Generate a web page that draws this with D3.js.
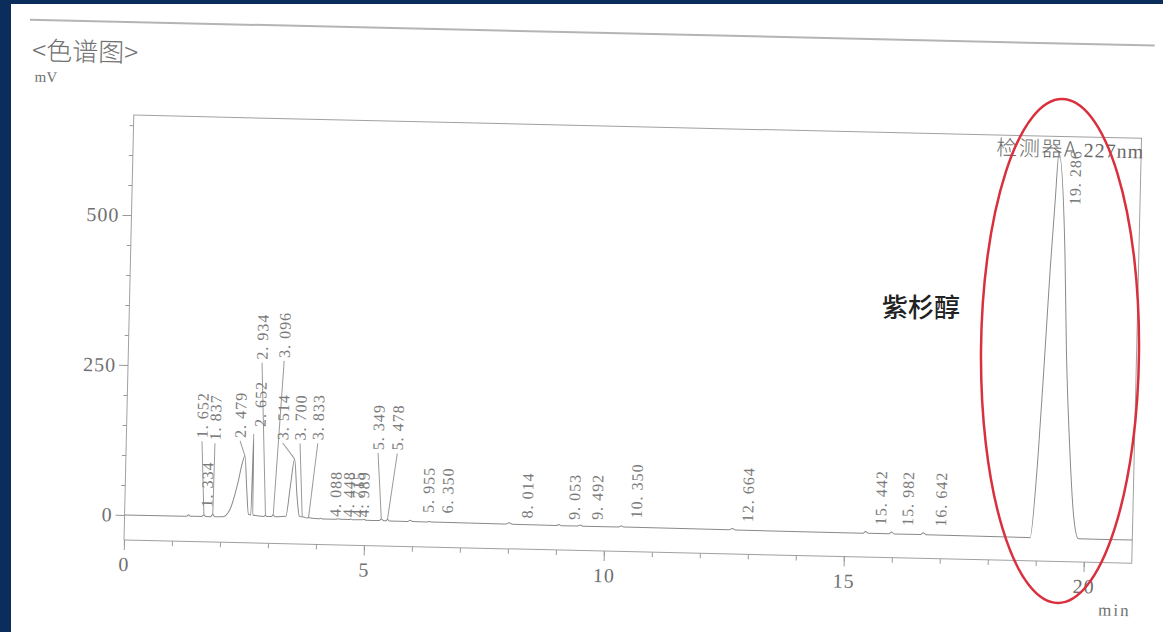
<!DOCTYPE html>
<html>
<head>
<meta charset="utf-8">
<script src="https://cdn.jsdelivr.net/npm/d3@7"></script>
<style>
  html, body { margin: 0; padding: 0; background: #0b2d5b; }
  svg { display: block; }
</style>
</head>
<body>
<svg id="chart" width="1163" height="632"></svg>
<script>
// ---- peak table (retention time in min, apex height in mV) ----
const peakRT = [1.334, 1.652, 1.837, 2.479, 2.652, 2.934, 3.096, 3.514, 3.700, 3.833,
                4.088, 4.448, 4.715, 4.989, 5.349, 5.478, 5.955, 6.350, 8.014, 9.053,
                9.492, 10.350, 12.664, 15.442, 15.982, 16.642, 19.286];
const peakMV = [3, 3, 4, 103, 140, 5, 6, 100, 4, 3,
                2, 2, 2, 2, 3, 3, 2, 1, 2, 1,
                1, 1, 1, 1, 1, 1, 639];

// ---- detector trace between the apexes (min, mV) ----
const traceT = [0, 1.25, 1.30, 1.37, 1.60, 1.70, 1.79, 1.88, 2.05, 2.20, 2.35, 2.43, 2.53, 2.58,
                2.63, 2.67, 2.90, 2.96, 3.06, 3.13, 3.36, 3.44, 3.58, 3.64, 3.67, 3.75, 3.80, 3.87,
                4.05, 4.12, 4.40, 4.50, 4.68, 4.75, 4.95, 5.03, 5.30, 5.40, 5.45, 5.52, 5.90, 6.00,
                6.30, 6.40, 7.95, 8.08, 9.00, 9.10, 9.44, 9.55, 10.30, 10.40, 12.60, 12.73,
                15.39, 15.50, 15.93, 16.04, 16.59, 16.70, 18.87, 19.00, 19.09, 19.16, 19.23,
                19.46, 19.54, 19.66, 19.76, 19.88, 21];
const traceMV = [0, 0, 0.5, 0.5, 0.5, 0.5, 0.5, 0.5, 1, 15, 60, 92, 50, 6,
                 5, 5, 3, 3, 3, 3, 4, 55, 40, 5, 4, 3, 2, 2,
                 1, 1, 1, 1, 1, 1, 1, 0.5, 0.5, 0.5, 0.5, 0, 0, 0,
                 0, 0, -0.5, -0.5, -1, -1, -1, -1, -1, -1, -1.5, -1.5,
                 -2, -2, -2, -2, -2, -2, -3, 138, 305, 444, 556,
                 473, 306, 140, 40, -3, -3];

// ---- where each retention-time tag sits (min, mV at the tag's foot) ----
const tagT  = [1.71, 1.577, 1.848, 2.37, 2.78, 2.79, 3.25, 3.26, 3.62, 3.99,
               4.385, 4.66, 4.85, 4.97, 5.25, 5.65, 6.32, 6.72, 8.385, 9.365,
               9.84, 10.66, 12.98, 15.75, 16.31, 17.0, 19.64];
const tagMV = [16, 131, 128, 133, 152, 264, 268, 131, 131, 132,
               5, 5, 5, 5, 118, 118, 15, 15, 10, 9,
               10, 14, 12, 12, 12, 12, 553];

// ---- axes ----
const xMajor = [0, 5, 10, 15, 20];
const yMajor = [0, 250, 500];
const xDomain = [0, 21];
const yDomain = [-41.7, 666.7];

const W = 1163, H = 632;
const svg = d3.select("#chart");

svg.append("rect").attr("width", W).attr("height", H).attr("fill", "#0b2d5b");
svg.append("rect").attr("x", 11).attr("y", 4).attr("width", W - 11).attr("height", H - 4).attr("fill", "#ffffff");

// plot frame in page coordinates; the printed page sits slightly skewed
const L = 124, T = 115, R = 1132, B = 540;
const skew = 1.32;
const page = svg.append("g").attr("transform", `rotate(${skew},${L},${B})`);

const x = d3.scaleLinear().domain(xDomain).range([L, R]);
const y = d3.scaleLinear().domain(yDomain).range([B, T]);

const serif = "'Liberation Serif', 'DejaVu Serif', serif";
const cjk = "'Noto Sans CJK SC', 'Noto Sans CJK JP', sans-serif";

// header rule, title and unit
page.append("line").attr("x1", 18).attr("x2", 1143).attr("y1", 22).attr("y2", 22)
  .attr("stroke", "#b4b4b4").attr("stroke-width", 2);
page.append("text").attr("x", 21).attr("y", 62).text("<色谱图>")
  .attr("font-family", cjk).attr("font-size", 26).attr("font-weight", 300).attr("fill", "#707070");
page.append("text").attr("x", 24).attr("y", 84).text("mV")
  .attr("font-family", serif).attr("font-size", 15).attr("fill", "#707070");

// frame
page.append("rect").attr("x", L).attr("y", T).attr("width", R - L).attr("height", B - T)
  .attr("fill", "none").attr("stroke", "#a0a0a0").attr("stroke-width", 1);

function styleAxis(g) {
  g.select(".domain").remove();
  g.selectAll("line").attr("stroke", "#9a9a9a");
  g.selectAll("text").attr("fill", "#707070").attr("font-family", serif)
    .attr("font-size", 20).attr("letter-spacing", 1);
}

// y axis: minor every 50 mV, labelled every 250 mV
page.append("g").attr("transform", `translate(${L},0)`)
  .call(d3.axisLeft(y).tickValues(d3.range(0, 651, 50)).tickSize(4).tickFormat(""))
  .call(styleAxis);
page.append("g").attr("transform", `translate(${L},0)`)
  .call(d3.axisLeft(y).tickValues(yMajor).tickSize(9).tickPadding(3))
  .call(styleAxis);

// x axis: minor every minute, labelled every 5 min
page.append("g").attr("transform", `translate(0,${B})`)
  .call(d3.axisBottom(x).tickValues(d3.range(0, 21, 1)).tickSize(5).tickFormat(""))
  .call(styleAxis);
page.append("g").attr("transform", `translate(0,${B})`)
  .call(d3.axisBottom(x).tickValues(xMajor).tickSize(10).tickPadding(7))
  .call(styleAxis);

page.append("text").attr("x", R).attr("y", B + 53).attr("text-anchor", "end").text("min")
  .attr("font-family", serif).attr("font-size", 17).attr("letter-spacing", 2).attr("fill", "#707070");

// detector caption
const cap = page.append("text").attr("x", R + 3).attr("y", T + 20).attr("text-anchor", "end")
  .attr("fill", "#6a6a6a");
cap.append("tspan").attr("font-family", cjk).attr("font-size", 21).attr("font-weight", 300)
  .attr("letter-spacing", 1.5).text("检测器A");
cap.append("tspan").attr("font-family", serif).attr("font-size", 20).attr("letter-spacing", 1).text(" 227nm");

// chromatogram trace: read points merged with apexes from the peak table
const pts = traceT.map((t, i) => ({ t, v: traceMV[i] }))
  .concat(peakRT.map((t, i) => ({ t, v: peakMV[i] })))
  .sort((a, b) => a.t - b.t);
page.append("path").datum(pts)
  .attr("d", d3.line().curve(d3.curveMonotoneX).x(d => x(d.t)).y(d => y(d.v)))
  .attr("fill", "none").attr("stroke", "#8a8a8a").attr("stroke-width", 1);

// leaders from low apexes to raised tags
const fmt = d3.format(".3f");
peakRT.forEach((t, i) => {
  if (tagMV[i] - peakMV[i] > 25 && i !== peakRT.length - 1) {
    page.append("line")
      .attr("x1", x(t)).attr("y1", y(peakMV[i]))
      .attr("x2", x(tagT[i])).attr("y2", y(tagMV[i]) + 3)
      .attr("stroke", "#9a9a9a").attr("stroke-width", 1);
  }
});

// retention-time tags
page.selectAll("text.rt").data(peakRT).enter().append("text")
  .attr("class", "rt")
  .attr("transform", (t, i) => `translate(${x(tagT[i])},${y(tagMV[i])}) rotate(-90)`)
  .attr("dominant-baseline", "central")
  .attr("font-family", serif).attr("font-size", 16).attr("letter-spacing", 1)
  .attr("fill", "#7a7a7a")
  .text(t => fmt(t).replace(".", ". "));

// highlight of the paclitaxel peak (drawn on top of the page, unskewed)
svg.append("ellipse").attr("cx", 1060).attr("cy", 351).attr("rx", 79).attr("ry", 252)
  .attr("transform", "rotate(0.5,1060,351)")
  .attr("fill", "none").attr("stroke", "#d9303e").attr("stroke-width", 2.5);
svg.append("text").attr("x", 882).attr("y", 317).text("紫杉醇")
  .attr("font-family", cjk).attr("font-size", 26).attr("font-weight", 500).attr("fill", "#222");
</script>
</body>
</html>
